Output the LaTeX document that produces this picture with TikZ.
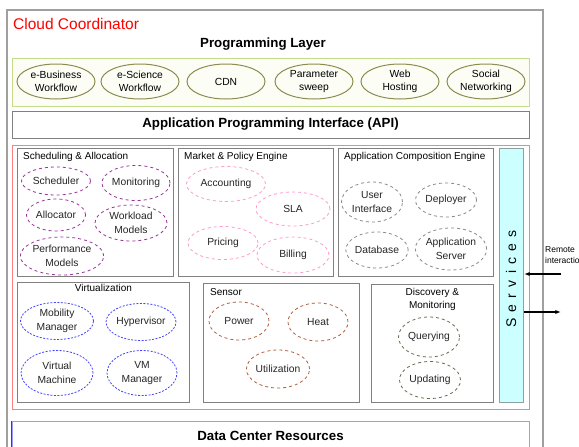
\documentclass[tikz,border=0pt]{standalone}
\usepackage{fontspec}
\setmainfont{Liberation Sans}
\usetikzlibrary{arrows.meta,positioning,shapes.geometric}
\definecolor{framegray}{HTML}{A0A0A0}
\definecolor{panelgray}{HTML}{808080}
\definecolor{laygreen}{HTML}{C3DD8A}
\definecolor{layfill}{HTML}{FCFEF5}
\definecolor{olive}{HTML}{8C8C50}
\definecolor{corered}{HTML}{FF8080}
\definecolor{schedpurple}{HTML}{993399}
\definecolor{marketpink}{HTML}{FF99CC}
\definecolor{compgray}{HTML}{8A8A8A}
\definecolor{virtblue}{HTML}{4545FF}
\definecolor{sensbrown}{HTML}{B0603F}
\definecolor{discgreen}{HTML}{607050}
\definecolor{servfill}{HTML}{CCFFFF}
\definecolor{servline}{HTML}{8FA0A0}
\definecolor{dcblue}{HTML}{9C9CFF}
\definecolor{dcedge}{HTML}{3333DD}

\begin{document}
\begin{tikzpicture}[x=1pt, y=-1pt, every node/.style={font=\fontsize{10.3}{13.5}\selectfont},
    panel/.style={draw=panelgray, line width=0.8pt, inner sep=0},
    heading/.style={inner sep=0, font=\fontsize{10}{13.5}\selectfont},
    bigtitle/.style={inner sep=0, font=\bfseries\fontsize{13.3}{15}\selectfont},
    blob/.style={ellipse, draw, dashed, line width=0.8pt, inner sep=0, align=center, text=black!85}]
      \path[use as bounding box, fill=white] (0,0) rectangle (579,447);
      % frame and layers
      \draw[framegray, line width=1.5pt] (7,470) -- (7,10) -- (543,10) -- (543,470);
      \node[anchor=west, inner sep=0, text=red, font=\fontsize{15.5}{17}\selectfont] (cctitle) at (13,24) {Cloud Coordinator};
      \node[bigtitle] (pltitle) at (263,44) {Programming Layer};
      \node[draw=laygreen, fill=layfill, line width=1pt, minimum width=517, minimum height=48] (proglayer) at (270.5,82) {};
      \node[draw=panelgray, line width=0.8pt, minimum width=517, minimum height=27, bigtitle] (api) at (270.5,124.5) {Application Programming Interface (API)};
      \node[draw=corered, line width=0.9pt, minimum width=517, minimum height=264] (core) at (270.5,277) {};
      \node[draw=dcblue, line width=1pt, minimum width=517, minimum height=30, bigtitle] (dc) at (270.5,436) {Data Center Resources};
      \draw[dcedge, line width=1pt] (dc.north west) -- (dc.south west);

      % programming layer applications
      \node[ellipse, draw=olive, line width=1pt, inner sep=0, align=center, minimum width=78, minimum height=35] (ebiz) at (56,81.5) {e-Business\\Workflow};
      \node[ellipse, draw=olive, line width=1pt, inner sep=0, align=center, minimum width=78, minimum height=35] (esci) at (140,81.5) {e-Science\\Workflow};
      \node[ellipse, draw=olive, line width=1pt, inner sep=0, align=center, minimum width=78, minimum height=35] (cdn) at (226,81.5) {CDN};
      \node[ellipse, draw=olive, line width=1pt, inner sep=0, align=center, minimum width=78, minimum height=35] (sweep) at (314,81.5) {Parameter\\sweep};
      \node[ellipse, draw=olive, line width=1pt, inner sep=0, align=center, minimum width=78, minimum height=35] (web) at (400,81.5) {Web\\Hosting};
      \node[ellipse, draw=olive, line width=1pt, inner sep=0, align=center, minimum width=78, minimum height=35] (social) at (486,81.5) {Social\\Networking};

      % upper panels
      \node[panel, anchor=north west, minimum width=156, minimum height=128] (sched) at (17,148) {};
      \node[panel, anchor=north west, minimum width=155, minimum height=128] (market) at (178,148) {};
      \node[panel, anchor=north west, minimum width=155, minimum height=128] (appcomp) at (338,148) {};
      \node[draw=servline, fill=servfill, line width=1pt, anchor=north west, minimum width=24, minimum height=254, inner sep=0] (services) at (499,148) {};
      \node[rotate=90, inner sep=0, font=\fontsize{14}{16}\selectfont] (servtext) at (511,279) {S\hspace{6.3pt}e\hspace{6.3pt}r\hspace{6.3pt}v\hspace{6.3pt}i\hspace{6.3pt}c\hspace{6.3pt}e\hspace{6.3pt}s};
      \node[heading, anchor=north west, below right=4.5pt and 6pt of sched.north west] (schedtitle) {Scheduling \& Allocation};
      \node[heading, anchor=north west, below right=4.5pt and 6pt of market.north west] (markettitle) {Market \& Policy Engine};
      \node[heading, anchor=north west, below right=4.5pt and 6pt of appcomp.north west] (appcomptitle) {Application Composition Engine};

      % lower panels
      \node[panel, anchor=north west, minimum width=172, minimum height=120] (virt) at (17,282) {};
      \node[panel, anchor=north west, minimum width=156, minimum height=119] (sensor) at (203,283) {};
      \node[panel, anchor=north west, minimum width=122, minimum height=118] (disc) at (371,284) {};
      \node[heading, below=2pt of virt.north] (virttitle) {Virtualization};
      \node[heading, anchor=north west, below right=5pt and 7pt of sensor.north west] (sensortitle) {Sensor};
      \node[heading, align=center, below=4pt of disc.north] (disctitle) {Discovery \&\\Monitoring};

      % scheduling & allocation
      \node[blob, draw=schedpurple, minimum width=69, minimum height=28] (scheduler) at (56,181) {Scheduler};
      \node[blob, draw=schedpurple, minimum width=59, minimum height=35] (monitor) at (136,183) {Monitoring};
      \node[blob, draw=schedpurple, minimum width=59, minimum height=32] (alloc) at (56,215) {Allocator};
      \node[blob, draw=schedpurple, minimum width=72, minimum height=36] (workload) at (131,223) {Workload\\Models};
      \node[blob, draw=schedpurple, minimum width=67, minimum height=38] (perf) at (62,256) {Performance\\Models};

      % market & policy
      \node[blob, draw=marketpink, minimum width=79, minimum height=35] (account) at (226,184) {Accounting};
      \node[blob, draw=marketpink, minimum width=74, minimum height=34] (sla) at (293,209) {SLA};
      \node[blob, draw=marketpink, minimum width=70, minimum height=33] (pricing) at (223,243) {Pricing};
      \node[blob, draw=marketpink, minimum width=72, minimum height=36] (billing) at (293,255) {Billing};

      % application composition
      \node[blob, draw=compgray, minimum width=61, minimum height=40] (ui) at (372,202) {User\\Interface};
      \node[blob, draw=compgray, minimum width=61, minimum height=34] (deployer) at (446,200) {Deployer};
      \node[blob, draw=compgray, minimum width=61, minimum height=36] (database) at (377,250) {Database};
      \node[blob, draw=compgray, minimum width=61, minimum height=42] (appserver) at (451,249) {Application\\Server};

      % virtualization
      \node[blob, draw=virtblue, dash pattern=on 2pt off 1.5pt, minimum width=73, minimum height=37] (mobility) at (57,321) {Mobility\\Manager};
      \node[blob, draw=virtblue, dash pattern=on 2pt off 1.5pt, minimum width=70, minimum height=37] (hyper) at (141,322) {Hypervisor};
      \node[blob, draw=virtblue, dash pattern=on 2pt off 1.5pt, minimum width=72, minimum height=45] (vmachine) at (57,373) {Virtual\\Machine};
      \node[blob, draw=virtblue, dash pattern=on 2pt off 1.5pt, minimum width=70, minimum height=45] (vmmanager) at (142,373) {VM\\Manager};

      % sensor
      \node[blob, draw=sensbrown, minimum width=60, minimum height=38] (power) at (239,321) {Power};
      \node[blob, draw=sensbrown, minimum width=60, minimum height=38] (heat) at (318,322) {Heat};
      \node[blob, draw=sensbrown, minimum width=60, minimum height=38] (util) at (278,369) {Utilization};

      % discovery & monitoring
      \node[blob, draw=discgreen, minimum width=61, minimum height=40] (query) at (429,337) {Querying};
      \node[blob, draw=discgreen, minimum width=61, minimum height=37] (update) at (430,380) {Updating};

      % remote interaction
      \node[anchor=north west, inner sep=0, align=left, font=\fontsize{8.5}{11.5}\selectfont] (remote) at (545,246) {Remote\\interaction};
      \coordinate (remotein) at (561,274);
      \coordinate (remoteout) at (561,312);
      \draw[-{Latex[length=2mm]}, line width=1.4pt] (remotein) -- (remotein -| services.east);
      \draw[-{Latex[length=2mm]}, line width=1.4pt] (remoteout -| services.east) -- (remoteout);
    \end{tikzpicture}
\end{document}
